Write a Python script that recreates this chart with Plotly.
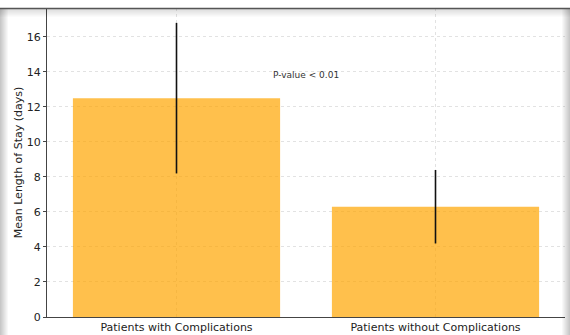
import plotly.graph_objects as go

categories = ["Patients with Complications", "Patients without Complications"]
means = [12.5, 6.3]
errors = [4.3, 2.1]
y_ticks = [0, 2, 4, 6, 8, 10, 12, 14, 16]
annotation_text = "P-value < 0.01"

fig = go.Figure()
fig.add_trace(go.Bar(
    x=categories, y=means, width=0.8,
    marker=dict(color="rgba(255,165,0,0.7)", line=dict(width=0)),
    error_y=dict(type="data", array=errors, visible=True, color="#111111", thickness=1.6, width=0),
))

fig.add_annotation(x=0.5, y=13.8, text=annotation_text, showarrow=False,
                   font=dict(family="DejaVu Sans", size=9, color="#333333"))

fig.update_layout(
    width=570, height=335,
    margin=dict(l=47, r=5, t=8, b=18),
    paper_bgcolor="white", plot_bgcolor="white",
    showlegend=False,
    font=dict(family="DejaVu Sans", size=11, color="#222222"),
    xaxis=dict(type="category", range=[-0.5, 1.5], showgrid=True, gridcolor="#e2e2e2",
               griddash="dot", gridwidth=1, showline=True, linecolor="#444444", linewidth=1,
               ticks="", ticklabelstandoff=0, tickfont=dict(size=11),
               automargin=False),
    yaxis=dict(range=[0, 17.65], tickvals=y_ticks, showgrid=True, gridcolor="#e2e2e2",
               griddash="dot", gridwidth=1, showline=True, linecolor="#444444", linewidth=1,
               ticks="outside", ticklen=3, tickcolor="#444444", zeroline=False,
               automargin=False,
               title=dict(text="Mean Length of Stay (days)", font=dict(size=11), standoff=1),
               tickfont=dict(size=11)),
)

W, H = 570, 335
pw, ph = W - 47 - 5, H - 8 - 18
def px_x(px):
    return (px - 47) / pw
def px_y(py):
    return 1 - (py - 8) / ph
frame = []
for i in range(8):
    op = 0.22 * (1 - i / 8)
    frame.append(dict(type="rect", xref="paper", yref="paper", layer="above",
                      x0=px_x(i), x1=px_x(i + 1), y0=px_y(H), y1=px_y(8),
                      fillcolor=f"rgba(0,0,0,{op:.3f})", line=dict(width=0)))
    frame.append(dict(type="rect", xref="paper", yref="paper", layer="above",
                      x0=px_x(W - i - 1), x1=px_x(W - i), y0=px_y(H), y1=px_y(8),
                      fillcolor=f"rgba(0,0,0,{op:.3f})", line=dict(width=0)))
    frame.append(dict(type="rect", xref="paper", yref="paper", layer="above",
                      x0=px_x(0), x1=px_x(W), y0=px_y(9 + i + 1), y1=px_y(9 + i),
                      fillcolor=f"rgba(0,0,0,{op*0.6:.3f})", line=dict(width=0)))
frame.append(dict(type="line", xref="paper", yref="paper", layer="above",
                  x0=px_x(0), x1=px_x(W), y0=px_y(8.5), y1=px_y(8.5),
                  line=dict(color="#555555", width=1.5)))
fig.update_layout(shapes=frame)

fig.write_html("out.html")
